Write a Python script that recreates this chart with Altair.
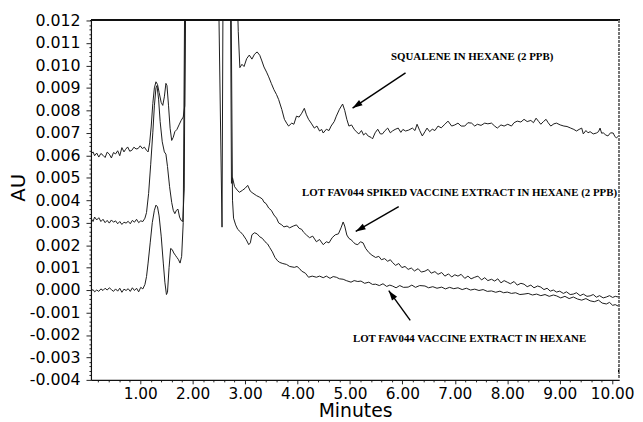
import math
import altair as alt
import pandas as pd

# ---- data (AU values given in units of 0.001 AU; 14 = off-scale above the frame) ----
squalene = [(0.06,6.05),(0.10,6.15),(0.13,5.98),(0.17,6.10),(0.21,5.92),(0.25,6.08),(0.29,6.00),(0.33,5.90),(0.37,6.14),(0.41,6.05),(0.45,5.88),(0.49,6.12),(0.53,6.06),(0.57,6.20),(0.61,5.98),(0.65,6.34),(0.69,6.15),(0.72,6.26),(0.76,6.37),(0.80,6.18),(0.84,6.22),(0.88,6.36),(0.92,6.28),(0.96,6.30),(1.00,6.42),(1.04,6.30),(1.08,6.36),(1.12,6.22),(1.15,6.15),(1.18,6.55),(1.21,7.30),(1.24,8.30),(1.27,9.00),(1.30,9.27),(1.33,9.15),(1.36,8.80),(1.40,8.35),(1.43,8.22),(1.46,8.60),(1.49,9.20),(1.51,9.10),(1.54,8.20),(1.57,7.20),(1.60,6.66),(1.63,6.80),(1.66,7.05),(1.70,7.15),(1.74,7.35),(1.78,7.55),(1.82,7.70),(1.85,8.20),(1.87,14),(2.84,14),(2.87,11.5),(2.90,9.90),(2.94,10.05),(2.98,9.95),(3.03,10.30),(3.08,10.46),(3.13,10.28),(3.18,10.50),(3.23,10.60),(3.28,10.45),(3.32,10.20),(3.36,9.93),(3.41,9.70),(3.45,9.49),(3.50,9.20),(3.55,8.92),(3.60,8.70),(3.64,8.48),(3.70,8.04),(3.75,7.60),(3.80,7.40),(3.83,7.30),(3.89,7.43),(3.93,7.38),(3.98,7.74),(4.03,7.70),(4.08,7.87),(4.13,8.09),(4.17,7.80),(4.21,7.60),(4.26,7.43),(4.32,7.21),(4.37,7.30),(4.42,7.08),(4.46,7.15),(4.49,6.99),(4.55,7.16),(4.60,7.10),(4.64,7.30),(4.70,7.50),(4.74,7.74),(4.80,8.05),(4.86,8.28),(4.90,8.00),(4.94,7.60),(4.98,7.30),(5.03,7.35),(5.08,7.16),(5.12,7.05),(5.17,6.95),(5.22,7.10),(5.26,6.90),(5.30,6.99),(5.35,6.85),(5.40,6.80),(5.43,6.73),(5.48,7.00),(5.53,7.16),(5.58,6.95),(5.62,6.95),(5.67,7.10),(5.72,7.21),(5.77,7.00),(5.81,7.08),(5.86,7.15),(5.92,7.21),(5.97,7.02),(6.01,7.15),(6.06,7.08),(6.12,7.12),(6.19,7.21),(6.24,7.10),(6.28,7.38),(6.33,7.10),(6.38,6.86),(6.43,7.05),(6.47,7.21),(6.52,7.05),(6.57,7.16),(6.62,7.10),(6.68,7.30),(6.74,7.22),(6.81,7.38),(6.87,7.52),(6.94,7.30),(7.00,7.35),(7.06,7.43),(7.12,7.30),(7.19,7.30),(7.25,7.45),(7.32,7.43),(7.38,7.30),(7.43,7.38),(7.50,7.33),(7.57,7.43),(7.63,7.40),(7.70,7.43),(7.76,7.30),(7.81,7.21),(7.88,7.35),(7.94,7.30),(8.01,7.38),(8.08,7.30),(8.13,7.45),(8.19,7.52),(8.26,7.48),(8.32,7.60),(8.38,7.50),(8.45,7.55),(8.50,7.45),(8.55,7.65),(8.60,7.50),(8.64,7.38),(8.69,7.50),(8.74,7.60),(8.78,7.45),(8.83,7.30),(8.89,7.40),(8.94,7.43),(9.01,7.35),(9.08,7.30),(9.14,7.28),(9.21,7.21),(9.27,7.15),(9.32,7.08),(9.37,7.15),(9.42,7.21),(9.45,6.95),(9.50,7.10),(9.54,7.00),(9.58,7.05),(9.64,6.95),(9.70,6.99),(9.74,7.05),(9.77,7.21),(9.80,6.98),(9.83,7.00),(9.88,6.90),(9.92,6.86),(9.97,7.00),(10.02,6.99),(10.05,6.85),(10.08,6.77),(10.12,6.85)]

spiked = [(0.06,3.20),(0.10,3.05),(0.13,3.25),(0.17,3.12),(0.21,3.22),(0.25,3.05),(0.29,3.15),(0.33,3.00),(0.37,3.10),(0.41,2.98),(0.45,3.12),(0.49,3.02),(0.53,3.08),(0.57,2.95),(0.61,3.05),(0.65,2.92),(0.69,3.02),(0.73,2.98),(0.77,3.06),(0.81,2.95),(0.85,3.10),(0.89,3.02),(0.93,3.15),(0.97,3.00),(1.01,3.08),(1.05,3.05),(1.09,3.20),(1.12,3.45),(1.16,4.30),(1.20,5.60),(1.24,7.00),(1.27,8.20),(1.30,9.00),(1.32,9.10),(1.35,8.50),(1.38,7.50),(1.42,6.60),(1.46,6.15),(1.49,6.05),(1.52,5.50),(1.56,4.60),(1.60,3.90),(1.63,3.55),(1.66,3.40),(1.69,3.55),(1.72,3.60),(1.75,3.25),(1.78,3.10),(1.81,3.05),(1.84,4.50),(1.86,14),(2.49,14),(2.56,2.80),(2.58,14),(2.72,14),(2.74,4.75),(2.76,5.00),(2.80,4.60),(2.85,4.45),(2.89,4.35),(2.95,4.44),(3.00,4.53),(3.05,4.66),(3.10,4.40),(3.15,4.31),(3.22,4.20),(3.28,4.13),(3.33,4.05),(3.36,3.91),(3.40,3.85),(3.45,3.65),(3.50,3.55),(3.55,3.34),(3.60,3.20),(3.64,2.99),(3.70,2.90),(3.74,2.81),(3.80,2.85),(3.85,2.77),(3.92,2.85),(3.98,2.90),(4.03,2.75),(4.08,2.70),(4.11,2.59),(4.17,2.45),(4.23,2.33),(4.29,2.40),(4.36,2.15),(4.42,2.25),(4.49,2.02),(4.55,2.15),(4.60,2.10),(4.66,2.33),(4.72,2.46),(4.78,2.50),(4.83,2.77),(4.87,3.03),(4.90,2.85),(4.94,2.45),(4.98,2.30),(5.02,2.24),(5.06,2.15),(5.10,2.05),(5.15,2.02),(5.20,2.15),(5.25,2.10),(5.30,1.85),(5.36,1.67),(5.42,1.55),(5.49,1.45),(5.55,1.50),(5.60,1.35),(5.66,1.40),(5.72,1.28),(5.77,1.35),(5.81,1.23),(5.87,1.10),(5.93,1.18),(5.99,1.00),(6.05,1.05),(6.11,0.92),(6.17,0.98),(6.23,0.85),(6.30,0.95),(6.36,0.80),(6.43,0.84),(6.49,0.92),(6.55,0.75),(6.62,0.82),(6.68,0.70),(6.75,0.78),(6.81,0.62),(6.88,0.72),(6.94,0.58),(7.00,0.68),(7.06,0.62),(7.12,0.70),(7.19,0.52),(7.25,0.62),(7.31,0.50),(7.38,0.57),(7.44,0.62),(7.51,0.45),(7.57,0.55),(7.63,0.42),(7.70,0.48),(7.76,0.40),(7.82,0.50),(7.88,0.32),(7.94,0.42),(8.00,0.35),(8.06,0.28),(8.13,0.38),(8.19,0.22),(8.26,0.30),(8.32,0.26),(8.38,0.15),(8.45,0.22),(8.51,0.10),(8.58,0.18),(8.64,0.13),(8.70,0.02),(8.76,0.08),(8.82,-0.05),(8.88,0.00),(8.94,-0.09),(9.00,-0.05),(9.07,-0.15),(9.13,-0.08),(9.20,-0.20),(9.26,-0.18),(9.32,-0.12),(9.39,-0.25),(9.45,-0.18),(9.52,-0.28),(9.58,-0.26),(9.64,-0.20),(9.70,-0.32),(9.76,-0.25),(9.83,-0.35),(9.89,-0.31),(9.95,-0.25),(10.01,-0.33),(10.06,-0.28),(10.12,-0.31)]

vaccine = [(0.06,-0.05),(0.10,0.02),(0.13,-0.08),(0.17,0.00),(0.21,-0.06),(0.25,0.05),(0.29,-0.02),(0.33,0.08),(0.37,0.00),(0.41,0.10),(0.45,0.02),(0.49,-0.06),(0.53,0.05),(0.57,-0.05),(0.61,0.08),(0.65,-0.10),(0.69,0.04),(0.73,-0.02),(0.77,0.06),(0.81,-0.06),(0.85,0.10),(0.89,-0.02),(0.93,0.08),(0.97,-0.08),(1.01,0.12),(1.05,0.05),(1.09,0.25),(1.12,0.60),(1.15,1.20),(1.19,2.10),(1.23,3.00),(1.27,3.55),(1.30,3.78),(1.33,3.70),(1.36,3.30),(1.40,2.40),(1.44,1.20),(1.47,0.35),(1.50,-0.20),(1.52,-0.10),(1.55,1.00),(1.58,1.85),(1.61,1.80),(1.64,1.65),(1.67,1.55),(1.70,1.45),(1.73,1.35),(1.76,1.20),(1.79,1.50),(1.82,3.00),(1.85,14),(2.73,14),(2.76,4.00),(2.78,3.20),(2.82,2.90),(2.86,2.70),(2.91,2.59),(2.96,2.46),(3.02,2.25),(3.07,2.02),(3.10,2.10),(3.13,2.46),(3.18,2.55),(3.23,2.50),(3.28,2.37),(3.33,2.30),(3.38,2.15),(3.43,2.05),(3.47,1.89),(3.52,1.70),(3.57,1.45),(3.62,1.30),(3.66,1.23),(3.72,1.18),(3.79,1.14),(3.85,1.05),(3.94,1.01),(3.99,1.05),(4.04,0.95),(4.08,0.84),(4.15,0.75),(4.21,0.57),(4.28,0.62),(4.36,0.57),(4.42,0.62),(4.49,0.55),(4.55,0.62),(4.62,0.52),(4.68,0.60),(4.74,0.57),(4.80,0.50),(4.87,0.48),(4.93,0.42),(5.02,0.35),(5.08,0.42),(5.15,0.38),(5.21,0.40),(5.28,0.30),(5.36,0.35),(5.43,0.25),(5.49,0.26),(5.56,0.20),(5.63,0.28),(5.70,0.16),(5.76,0.22),(5.81,0.18),(5.88,0.10),(5.95,0.20),(6.02,0.12),(6.11,0.13),(6.18,0.22),(6.25,0.12),(6.33,0.20),(6.43,0.18),(6.50,0.10),(6.58,0.15),(6.66,0.08),(6.75,0.13),(6.82,0.05),(6.90,0.12),(6.98,0.06),(7.06,0.10),(7.14,0.02),(7.22,0.08),(7.30,0.00),(7.38,0.04),(7.46,-0.02),(7.54,0.02),(7.62,-0.06),(7.70,-0.04),(7.78,-0.10),(7.86,-0.05),(7.93,-0.12),(8.00,-0.09),(8.08,-0.15),(8.16,-0.12),(8.24,-0.20),(8.32,-0.18),(8.40,-0.15),(8.48,-0.22),(8.56,-0.18),(8.64,-0.25),(8.72,-0.20),(8.80,-0.28),(8.88,-0.22),(8.94,-0.26),(9.02,-0.35),(9.10,-0.28),(9.18,-0.38),(9.26,-0.31),(9.34,-0.40),(9.42,-0.45),(9.50,-0.38),(9.58,-0.48),(9.66,-0.52),(9.74,-0.45),(9.81,-0.58),(9.89,-0.62),(9.95,-0.55),(10.01,-0.68),(10.06,-0.65),(10.12,-0.72)]

ann_text = ["SQUALENE IN HEXANE (2 PPB)",
            "LOT FAV044 SPIKED VACCINE EXTRACT IN HEXANE (2 PPB)",
            "LOT FAV044 VACCINE EXTRACT IN HEXANE"]
ann_t = [7.33, 7.09, 7.28]
ann_au = [10.37, 4.31, -2.20]

arrow_t = [6.06, 5.93, 6.15]
arrow_au = [9.67, 3.71, -1.35]
arrow_t2 = [5.05, 5.11, 5.74]
arrow_au2 = [8.10, 2.61, -0.03]

x_ticks = [round(0.2 * i, 1) for i in range(1, 51)]
y_ticks = [round(-0.004 + 0.0002 * i, 4) for i in range(81)]

T_MIN, T_MAX = 0.06, 10.135
AU_MIN, AU_MAX = -0.004, 0.012
W, H = 535, 364

# ---- tables ----
rows = []
for name, pts in (("squalene", squalene), ("spiked", spiked), ("vaccine", vaccine)):
    for t, v in pts:
        rows.append({"trace": name, "t": t, "au": v / 1000.0})
traces = pd.DataFrame(rows)

ann = pd.DataFrame({"label": ann_text, "t": ann_t, "au": [v / 1000.0 for v in ann_au]})

ppx = W / (T_MAX - T_MIN)
ppy = H / (AU_MAX - AU_MIN)
angles = []
for a, b, c, d in zip(arrow_t, arrow_au, arrow_t2, arrow_au2):
    dx = (c - a) * ppx
    dy = -(d - b) / 1000.0 * ppy
    angles.append(math.degrees(math.atan2(dx, -dy)) % 360)
arrows = pd.DataFrame({
    "t": arrow_t, "au": [v / 1000.0 for v in arrow_au],
    "t2": arrow_t2, "au2": [v / 1000.0 for v in arrow_au2],
    "ang": angles,
})

# ---- scales & axes ----
xs = alt.Scale(domain=[T_MIN, T_MAX], nice=False, zero=False)
ys = alt.Scale(domain=[AU_MIN, AU_MAX], nice=False, zero=False)

x_major_test = "abs(datum.value - round(datum.value)) < 0.001"
y_major_test = "abs(datum.value * 1000 - round(datum.value * 1000)) < 0.01"

x_axis = alt.Axis(
    values=x_ticks,
    labelExpr=f"{x_major_test} ? format(datum.value, '.2f') : ''",
    tickSize={"condition": {"test": x_major_test, "value": 4}, "value": 2},
    tickColor="#222", domainColor="#111", domainWidth=1.3,
    labelFont="DejaVu Sans", labelFontSize=15.5, labelColor="black",
    labelPadding=3, labelFlush=False, labelOverlap=False, labelBound=False,
    grid=False, title="Minutes", titleFont="DejaVu Sans", titleFontSize=19,
    titleFontWeight="normal", titleColor="black", titleY=37, titleBaseline="alphabetic",
)
y_axis = alt.Axis(
    values=y_ticks,
    labelExpr=f"{y_major_test} ? (datum.value < -0.00001 ? '-' : '') + format(abs(datum.value), '.3f') : ''",
    tickSize={"condition": {"test": y_major_test, "value": 5}, "value": 2},
    tickColor="#222", domainColor="#111", domainWidth=1.2,
    labelFont="DejaVu Sans", labelFontSize=16, labelColor="black",
    labelPadding=6, labelOverlap=False, labelBound=False, labelFlush=False,
    grid=False, title="AU", titleFont="DejaVu Sans", titleFontSize=20,
    titleFontWeight="normal", titleColor="black",
    titleX=-73, titleY=169, titleAlign="center", titleBaseline="middle", titleAngle=270,
)

X = lambda f: alt.X(f, scale=xs, axis=x_axis)
Y = lambda f: alt.Y(f, scale=ys, axis=y_axis)

lines = alt.Chart(traces).mark_line(color="#1a1a1a", strokeWidth=1, clip=True).encode(
    x=X("t:Q"), y=Y("au:Q"), detail="trace:N",
)

top_border = alt.Chart(traces).mark_rule(color="#111", strokeWidth=1.3).encode(
    y=alt.datum(AU_MAX, scale=ys, axis=y_axis)
)
right_border = alt.Chart(traces).mark_rule(color="#777", strokeWidth=0.8, strokeDash=[2, 2]).encode(
    x=alt.datum(T_MAX, scale=xs, axis=x_axis)
)

labels = alt.Chart(ann).mark_text(
    font="Liberation Serif", fontWeight="bold", fontSize=11, color="black",
    align="center", baseline="middle",
).encode(x=X("t:Q"), y=Y("au:Q"), text="label:N")

arrow_lines = alt.Chart(arrows).mark_rule(color="black", strokeWidth=1.4).encode(
    x=X("t:Q"), y=Y("au:Q"), x2="t2:Q", y2="au2:Q"
)
arrow_heads = alt.Chart(arrows).mark_point(
    shape="M0,0 L-0.32,1 L0.32,1 Z", filled=True, color="black", opacity=1, size=400,
).encode(
    x=X("t2:Q"), y=Y("au2:Q"),
    angle=alt.Angle("ang:Q", scale=None),
)

chart = alt.layer(lines, top_border, right_border, labels, arrow_lines, arrow_heads).properties(
    width=W, height=H,
    autosize=alt.AutoSizeParams(type="none"),
    padding={"left": 84, "top": 10, "right": 16, "bottom": 40},
    background="white",
).configure_view(strokeWidth=0).configure_axis(labelOverlap=False)

chart.save("out.html", embed_options={"renderer": "svg", "actions": False})
